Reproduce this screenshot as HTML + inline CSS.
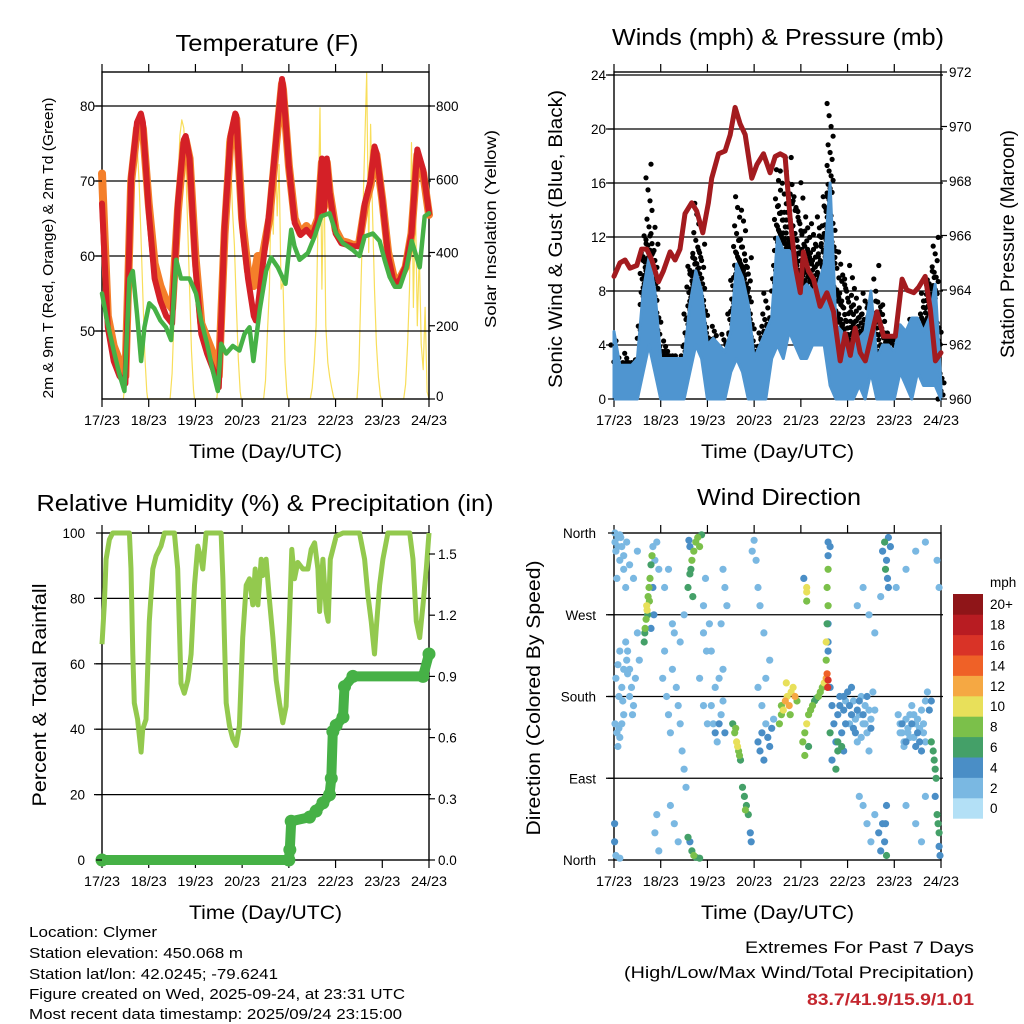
<!DOCTYPE html>
<html><head><meta charset="utf-8"><style>
html,body{margin:0;padding:0;background:#fff}
svg{display:block}
text{font-family:"Liberation Sans",sans-serif;fill:#000}
</style></head><body>
<svg id="chart" width="1024" height="1024" viewBox="0 0 1024 1024" xmlns="http://www.w3.org/2000/svg">
<rect width="1024" height="1024" fill="#fff"/>
<g>
<text x="267" y="51" font-size="23" text-anchor="middle" textLength="183" lengthAdjust="spacingAndGlyphs">Temperature (F)</text>
<text x="778" y="45" font-size="23" text-anchor="middle" textLength="332" lengthAdjust="spacingAndGlyphs">Winds (mph) &amp; Pressure (mb)</text>
<text x="265" y="511" font-size="23" text-anchor="middle" textLength="457" lengthAdjust="spacingAndGlyphs">Relative Humidity (%) &amp; Precipitation (in)</text>
<text x="779" y="505" font-size="23" text-anchor="middle" textLength="164" lengthAdjust="spacingAndGlyphs">Wind Direction</text>
</g>
<g font-size="15">
<text x="29" y="937" textLength="128" lengthAdjust="spacingAndGlyphs">Location: Clymer</text>
<text x="29" y="958" textLength="214" lengthAdjust="spacingAndGlyphs">Station elevation: 450.068 m</text>
<text x="29" y="979" textLength="249" lengthAdjust="spacingAndGlyphs">Station lat/lon: 42.0245; -79.6241</text>
<text x="29" y="999" textLength="376" lengthAdjust="spacingAndGlyphs">Figure created on Wed, 2025-09-24, at 23:31 UTC</text>
<text x="29" y="1019" textLength="373" lengthAdjust="spacingAndGlyphs">Most recent data timestamp: 2025/09/24 23:15:00</text>
</g>
<g>
<text x="974" y="953" font-size="17" text-anchor="end" textLength="229" lengthAdjust="spacingAndGlyphs">Extremes For Past 7 Days</text>
<text x="974" y="978" font-size="17" text-anchor="end" textLength="350" lengthAdjust="spacingAndGlyphs">(High/Low/Max Wind/Total Precipitation)</text>
<text x="974" y="1005" font-size="17" font-weight="bold" text-anchor="end" textLength="167" lengthAdjust="spacingAndGlyphs" style="fill:#c4262e">83.7/41.9/15.9/1.01</text>
</g>
</svg>
<script>
// ---------- DATA ----------
const dayLabels = ["17/23","18/23","19/23","20/23","21/23","22/23","23/23","24/23"];
// Temperature panel
const tempHours = [0,3,6,9,12,15,18,20,21,24,27,30,33,36,39,42,43,45,48,51,54,57,60,63,66,68.5,69,72,75,78,79,80,82.5,86,90,92.5,93,96,99,102,105,108,111,113,114,115.5,117,120,123,126,129,132,135,138,140,141,144,147,150,153,156,159,162,165,168];
const temp2m = [67,50.5,46,44,43,70.6,77.8,79,77.8,66,57,54,52,51,67,75.5,76,73,58.6,49.6,47,45,42.5,64,76,79,78.7,64,57,52,51.4,53,58.6,66,77,83.6,82.7,72,64.4,62.8,63.5,62.6,64.8,73,66,73,68.4,63,61.7,61.5,61.3,61.3,67,70,74.6,73.8,67.5,60,56.3,56.8,58.6,63,74.2,71.5,65.7];
const temp9m = [71,52,48,46,44,70,77,78,77,67,59,56,54,53,66,75,75.5,73,60,51,49,47,44,63,75.5,78.5,78.3,65,58,56,58.5,60,60,65,76.5,83,82.2,72,65,63,64,63,65,72.5,66.5,72.5,68.5,63.5,62,61.8,61.5,61.5,66.5,69.5,74,73.5,67.5,60.5,57,57,58.5,63,73.5,71,65.5];
const dewHours = [0,2.9,6,8.9,11.5,14.1,15.8,18,20.1,21.8,24.3,26.9,30,32.9,35.5,38.1,40.6,44.9,48.3,50.9,54,56.9,59.5,61.2,63.8,67.2,70.6,73.2,75.8,77.8,81,84.3,86.9,90.3,94.3,97.2,98.9,101.5,105.8,109.2,112.6,116.9,120.3,123.8,128.9,132.3,134.9,139.2,142.6,145.2,147.8,150.5,153.1,156.5,159.1,163.2,165.8,168];
const dewPoint = [55,51,47.4,44.3,42,57,58,52.3,46,50.5,53.7,53,51.4,50.5,48.8,59.5,57,57,55,51.4,48.3,44.7,42,48.3,47,48,47.4,49.6,50.5,46,52.8,58,59.8,58.5,56.3,63.5,61.3,59.5,60.4,62.6,65.3,65.7,63,61.7,60.8,60,62.6,63,62,59.5,57.2,55.9,55.9,58.5,62,58.5,65.3,65.7];
const solarHours = [11,12,13,14,15,16,17,18,19,20,21,22,23,23.5,
 35,36,37,38,39,40,41,42,43,44,45,46,47,47.5,
 59,60,61,62,63,64,65,66,67,68,69,70,71,71.5,
 83,84,85,86,87,88,89,90,91,92,93,94,95,95.5,
 107,108,109,110,111,112,113,114,115,116,117,118,119,119.5,
 131,132,133,134,135,136,137,138,139,140,141,142,143,143.5,
 155,156,157,158,159,160,161,162,163,164,165,166,167,168];
const solarValues = [0,60,200,380,560,680,720,700,600,450,280,120,20,0,
 0,70,220,400,580,720,762,740,640,480,300,130,25,0,
 0,60,210,390,570,700,727,680,520,420,260,110,20,0,
 0,50,180,300,600,450,707,500,640,300,320,100,15,0,
 0,30,100,200,500,795,300,650,200,100,60,30,5,0,
 0,80,300,500,700,890,400,750,500,300,150,60,10,0,
 0,40,150,300,700,250,550,200,400,150,80,250,20,0];
const tempTicks = [50,60,70,80];
const solarTicks = [0,200,400,600,800];
// Wind panel
const windHours = [0,3,6,9,12,15,18,21,24,27,30,33,36,39,42,45,48,51,54,57,60,63,66,69,72,75,78,81,84,87,90,93,96,99,102,105,108,111,114,117,120,123,126,129,132,135,138,141,144,147,150,153,156,159,162,165,168];
const windLow = [0,0,0,0,0,2,4,2,0,0,0,0,0,2,4,3,0,0,0,0,2,3,2,0,0,0,0,3,4,3,5,4,3,3,4,4,4,1,0,0,0,0,1,0,2,0,0,0,0,2,1,0,2,1,1,1,0];
const windHigh = [5,2.5,2.5,2.5,3,8,10.5,8,3,3,3,3,3,7,9.5,8,4,4.5,4,3.5,5,10,9,7,3,4,5,6,12,11,11,10,8,8.5,8,8.5,10,16,5.5,5,3,4,4.5,5,8,3,4,4,3.5,5.5,5,6,6,5,6,8.5,1];
const gustHigh = [4.5,3,3.5,3,3,11,18.5,12,4,4.5,3.5,3.5,4,11,15,12,5,5.5,4,5,7,15,14,11,4,5,8,6.5,17,18,19,16,17,13.5,13,14,15,22,11,11,10,9,7,8,7,11,7,5,4.5,5,5,6,5.5,9,10,12,2];
const presHours = [0,3.1,5.7,8.2,11.7,14.2,16.8,19.4,22.8,25.4,28.8,31.4,33.9,36.5,39.9,42.5,45.6,48.5,50.2,53.7,57.1,59.7,62.2,64.8,67.4,70.8,73.4,76.8,80.2,82.8,85.4,87.9,90.5,93.1,95.7,97.3,99.9,102.5,105.9,109.4,112.8,116.2,118.8,121.4,123.9,126.5,129.1,132.5,135.1,138.5,141.9,144.5,148,150.5,154,156.5,159.9,162.5,165.1,168];
const pressure = [964.5,965.0,965.1,964.8,964.9,965.5,965.5,965.1,964.3,964.7,965.4,965.1,965.5,966.8,967.2,966.9,966.1,967.2,968.1,969.0,969.1,969.7,970.7,970.1,969.7,968.1,968.6,969.0,968.3,968.9,969.0,968.9,966.6,964.9,963.9,965.4,964.7,964.4,963.4,963.9,963.2,961.4,962.4,961.6,962.6,961.7,961.4,962.4,963.2,962.3,962.3,962.3,964.4,964.0,963.9,964.1,964.5,963.3,961.4,961.7];
const windTicks = [0,4,8,12,16,20,24];
const presTicks = [960,962,964,966,968,970,972];
// Humidity panel
const rhHours = [0,1.2,2.1,3.8,5.5,14.1,14.9,15.8,16.6,18.3,20.1,20.9,22.6,24.3,26.1,27.8,30.3,32.1,37.2,38.9,39.8,40.6,42.3,44.1,45.8,47.5,49.2,50.9,51.8,53.5,61.2,62.1,62.9,63.8,65.5,67.2,68.9,70.6,72.3,74.1,75.8,77.5,78.7,80.1,81.8,82.6,84.3,86.1,87.8,89.5,91.2,92.9,94.6,96.3,97.5,98.9,100.6,103.2,105.8,107.5,109.2,110.9,111.8,113.5,115.2,116.2,117.3,120.3,123.8,132.3,134.9,136.6,138.3,140,140.9,142.6,144.3,146.9,158.1,159.8,161.5,163.2,164.9,166.6,168];
const rhValues = [66,78,92,98,100,100,89,63,48,43,33,40,43,73,89,93,96,100,100,89,70,54,51,55,63,84,96,92,89,100,100,86,68,48,41,37,35,41,68,84,86,78,89,78,92,87,92,79,68,55,48,42,47,73,95,86,91,89,89,95,97,89,76,92,76,73,92,99,100,100,92,81,73,63,71,84,92,100,100,92,73,68,78,89,100];
const rainHours = [0,96,96.5,97.2,106.6,110,113.5,116.9,117.8,118.6,120.3,123.8,124.6,128.9,164.9,168];
const rainTotal = [0,0,0.05,0.19,0.21,0.24,0.28,0.32,0.4,0.63,0.66,0.7,0.85,0.9,0.9,1.01];
const rhTicks = [0,20,40,60,80,100];
const rainTicks = ["0.0","0.3","0.6","0.9","1.2","1.5"];
// Wind direction panel
const dirHours = [0.5,1,2,3,4,5,6,1.5,3.5, 0.5,1.5,2.5,3,4,2,5, 0.3,0.3,1,3,
 15.5,16,16.5,17,17.5,18,18.5,19,19.5,16.8,17.3,18.2,15.8,20,20.5,19, 7,8,9,10,11,12,13,8,9.5, 20,21,22,23,21,22,23,
 38,39,40,41,42,43,44,45,39.5,40.5, 38.5,39,38,39,40,41,42,44, 25,26,27,28,29,30,31,32,33,34,35,36,37,29,31,33, 46,47,46,47.5,
 50,51,52,53,54,55,56,57,52,54,56,50,49, 61,62,63,64,65,63.5,62.5,64.5, 66,67,68,69,67.5,70,70.5, 56,57,58,55,72,71,
 74,75,76,77,78,79,80,81,82,76,74,78, 85,86,87,88,89,90,91,92,93,88.5,86,90.5,94, 73,74,75,77,80,99,99,99,97.5,
 97,98,99,100,101,102,103,104,105,106,107,108,109,109.5,109.8,110,100,98, 109,109,109.5,110,109.5,110,110,110,110,
 111,112,113,114,115,116,117,118,112,114,116,118,119,111,115, 115,117,110,111,110,
 121,122,123,124,125,126,127,128,129,130,131,132,133,134, 126,128,130,132,134,136,137,138, 138,139,140,141,142,139.5,140.5,141, 139,139.5,140,140, 125,128,131,134,137,
 146,147,148,149,150,151,152,153,154,155,156,157,158,159,160,161,162,163, 163,164,164.5,165,165.5, 165,166,166.5,167,167,167.5, 145,150,155,160,166,167,150,155,158,160,
 1,2,3,4,5,6,7,2.5,4.5,6.5, 118,119,120,121,122,123,124,125,126,127,128,129,130,131,132, 147,148,149,150,151,152,153,154,155,156,157,158,159,160, 0.5,2,3,5,6.5,8,10,12, 26,28,30,34,36,44,46,48];
const dirDegrees = [350,340,355,330,345,320,300,310,355, 150,140,145,135,150,125,160, 40,20,5,2,
 240,255,265,275,290,300,310,325,335,280,270,285,250,300,270,255, 230,210,190,170,200,250,220,180,160, 345,330,350,320,30,50,10,
 300,315,330,340,350,355,345,358,320,290, 352,345,25,20,10,5,3,2, 200,230,180,160,140,210,250,190,170,150,120,100,80,60,40,20, 280,310,250,230,
 170,150,140,130,150,160,175,140,190,200,210,230,260, 150,140,130,120,110,125,145,115, 80,70,60,50,55,30,20, 320,300,280,260,352,340,
 130,120,140,110,150,135,125,145,155,170,190,200, 150,160,165,175,180,170,185,190,180,195,170,160,175, 330,300,280,250,220,300,295,285,310,
 130,140,150,160,165,170,175,178,180,185,190,195,200,205,190,198,125,115, 220,240,260,280,300,320,260,240,230,
 190,170,150,130,160,180,140,120,110,100,170,180,150,140,120, 130,125,350,345,335,
 150,160,175,140,130,160,180,150,170,140,120,155,185,165, 70,60,40,20,50,30,10,40, 340,350,330,355,345,320,310,300, 20,40,60,5, 280,300,270,250,290,
 160,150,140,130,155,145,135,170,160,150,140,130,165,150,175,185,165,175, 130,120,110,100,90, 70,50,40,30,15,5, 300,320,340,350,330,300,60,40,20,70,
 200,215,230,190,210,240,205,180,175,220, 165,175,185,170,190,145,155,165,175,135,160,150,180,165,145, 140,150,125,130,140,160,150,135,125,155,145,120,140,130, 360,345,358,335,350,325,310,340, 300,320,260,240,270,200,170,150];
const dirSpeeds = [1,1,2,1,1,1,1,2,1, 1,2,1,2,1,1,1, 3,3,1,1,
 6,7,8,10,8,7,7,6,7,9,6,7,5,4,4,3, 1,1,1,1,2,1,1,2,1, 1,1,2,1,1,1,1,
 6,6,7,8,8,7,7,6,5,6, 4,4,5,4,6,7,6,5, 1,2,1,2,1,1,1,2,1,2,1,1,1,1,1,1, 1,1,2,1,
 2,2,3,2,3,2,2,3,1,1,1,1,1, 6,8,9,7,6,10,7,8, 5,6,6,5,7,4,4, 1,2,1,1,1,1,
 3,4,3,4,2,4,3,3,2,2,2,1, 7,8,10,11,10,12,10,9,11,10,8,8,7, 1,1,1,1,1,10,10,7,4,
 8,8,9,8,7,7,6,6,7,8,8,10,12,14,16,15,6,7, 8,10,6,7,8,8,4,4,4,
 4,4,4,4,3,3,3,4,4,5,4,3,3,5,5, 6,6,3,3,4,
 2,3,2,3,2,2,1,2,1,2,1,2,2,1, 2,1,2,2,2,4,4,3, 4,5,4,3,4,6,4,3, 4,4,3,6, 1,1,1,1,1,
 2,2,2,2,2,2,2,1,2,2,3,3,2,2,2,2,3,3, 5,6,5,5,6, 4,5,6,6,4,3, 1,1,1,1,1,1,1,1,1,1,
 1,1,2,1,2,1,1,1,2,1, 3,2,3,4,3,3,2,4,3,2,3,2,3,2,4, 2,3,2,3,2,1,3,2,3,2,2,3,2,2, 1,1,2,1,1,1,1,1, 1,1,1,1,1,1,1,1];
const dirTicks = ["North","East","South","West","North"];
const speedLabels = ["0","2","4","6","8","10","12","14","16","18","20+"];
const speedColors = ["#b3e0f6","#7ab8e2","#4a8ec6","#44a068","#7bc04a","#e8e05a","#f5a843","#ef6127","#d93327","#b81c22","#8f1518"];

// ---------- DRAWING ----------
const NS = "http://www.w3.org/2000/svg";
const svg = document.getElementById("chart");
function mk(tag, parent){ const e = document.createElementNS(NS, tag); (parent||svg).appendChild(e); return e; }
function set(e, o){ for (const k in o) e.setAttribute(k, o[k]); return e; }
function txt(parent, x, y, s, size, anchor){ const t = mk("text", parent); set(t,{x:x,y:y,"font-size":size,"text-anchor":anchor||"middle"}); t.textContent = s; return t; }
function linScale(d0,d1,r0,r1){ return v => r0 + (v-d0)/(d1-d0)*(r1-r0); }
function pathOf(xs, ys, fx, fy){ let d=""; const n=Math.min(xs.length,ys.length); for(let i=0;i<n;i++){ d += (i?"L":"M")+fx(xs[i]).toFixed(1)+","+fy(ys[i]).toFixed(1); } return d; }

function frame(g, x0, y0, w, h, gridYs, name){
  gridYs.forEach(y => {
    const l = mk("line", g);
    set(l,{x1:x0-8,x2:x0+w+2,y1:y,y2:y,stroke:"#000","stroke-width":1.2});
    
    
  });
  const r = mk("rect", g);
  set(r,{x:x0,y:y0,width:w,height:h,fill:"none",stroke:"#000","stroke-width":1.4});
  
  
  const xs = linScale(0,168,x0,x0+w);
  for (let d=0; d<=7; d++){
    const x = xs(d*24);
    const t1 = mk("line", g); set(t1,{x1:x,x2:x,y1:y0,y2:y0-8,stroke:"#000","stroke-width":1.2});
     
    const t2 = mk("line", g); set(t2,{x1:x,x2:x,y1:y0+h,y2:y0+h+8,stroke:"#000","stroke-width":1.2});
     
    const lb = txt(g, x, y0+h+26, dayLabels[d], 13.5);
    set(lb,{textLength:36,lengthAdjust:"spacingAndGlyphs"});
     
  }
  const at = txt(g, x0+w/2, y0+h+59, "Time (Day/UTC)", 19.5);
  set(at,{textLength:153,lengthAdjust:"spacingAndGlyphs"});
   
}
function yTitle(g, x, cy, s, size, len, name){
  const t = txt(g, 0, 0, s, size);
  set(t,{transform:`translate(${x},${cy}) rotate(-90)`, textLength:len, lengthAdjust:"spacingAndGlyphs"});
   
}
function tickLabel(g, x, y, s, anchor, name){
  const t = txt(g, x, y+5, s, 13.5, anchor);
   
  return t;
}
function sideTick(g, x, y, dir){
  const l = mk("line", g); set(l,{x1:x,x2:x+dir,y1:y,y2:y,stroke:"#000","stroke-width":1.2});
   
}

// ===== Panel 1: Temperature =====
(function(){
  const g = mk("g");  
  const X0=102, Y0=72, W=327, H=327;
  const x = linScale(0,168,X0,X0+W);
  const y = linScale(60,70,256,181);
  const ys = linScale(0,800,399,106);
  const sp = mk("path", g); set(sp,{d:pathOf(solarHours,solarValues,x,ys),fill:"none",stroke:"#f8de5a","stroke-width":1.2,"stroke-linejoin":"round"});
   
  frame(g, X0, Y0, W, H, tempTicks.map(y), "temperature");
  const o = mk("path", g); set(o,{d:pathOf(tempHours,temp9m,x,y),fill:"none",stroke:"#f47f2a","stroke-width":8,"stroke-linejoin":"round","stroke-linecap":"round"});
   
  const r = mk("path", g); set(r,{d:pathOf(tempHours,temp2m,x,y),fill:"none",stroke:"#d42027","stroke-width":6,"stroke-linejoin":"round","stroke-linecap":"round"});
   
  const gr = mk("path", g); set(gr,{d:pathOf(dewHours,dewPoint,x,y),fill:"none",stroke:"#46b146","stroke-width":4.5,"stroke-linejoin":"round","stroke-linecap":"round"});
   
  tempTicks.forEach(v => { tickLabel(g, X0-7, y(v), String(v), "end", "temp-tick-label"); sideTick(g, X0, y(v), -6); });
  solarTicks.forEach(v => { tickLabel(g, X0+W+7, Math.min(ys(v),396), String(v), "start", "solar-tick-label"); sideTick(g, X0+W, ys(v), 6); });
  yTitle(g, 53, 248, "2m & 9m T (Red, Orange) & 2m Td (Green)", 15, 301, "temp-y-title");
  yTitle(g, 496, 229, "Solar Insolation (Yellow)", 15.5, 198, "solar-y-title");
})();

// ===== Panel 2: Winds & Pressure =====
(function(){
  const g = mk("g");  
  const X0=614, Y0=72, W=327, H=327;
  const x = linScale(0,168,X0,X0+W);
  const y = linScale(0,24,399,75);
  const yp = linScale(960,972,399,72);
  frame(g, X0, Y0, W, H, windTicks.slice(1).map(y), "winds");
  const gg = mk("g", g);  
  const n = windHours.length;
  for (let i=0;i<n;i++){
    const cols = [[windHours[i], windHigh[i], gustHigh[i]]];
    if (i<n-1) cols.push([(windHours[i]+windHours[i+1])/2, (windHigh[i]+windHigh[i+1])/2, (gustHigh[i]+gustHigh[i+1])/2*0.85]);
    cols.forEach(c => {
      let k = 0;
      for (let v=Math.max(0,c[1]-1); v<=c[2]; ){
        const dot = mk("circle", gg);
        set(dot,{cx:(x(c[0])+((k*5)%7-3)).toFixed(1),cy:y(v).toFixed(1),r:2.6,fill:"#000"});
        
        
        k++;
        v += 0.3 + Math.max(0, v-c[1])*0.12;
      }
    });
  }
  let d = "";
  for (let i=0;i<n;i++) d += (i?"L":"M")+x(windHours[i]).toFixed(1)+","+y(windHigh[i]).toFixed(1);
  for (let i=n-1;i>=0;i--) d += "L"+x(windHours[i]).toFixed(1)+","+y(windLow[i]).toFixed(1);
  d += "Z";
  const band = mk("path", g); set(band,{d:d,fill:"#4f95d0",stroke:"#4f95d0","stroke-width":3,"stroke-linejoin":"round"});
   
  const p = mk("path", g); set(p,{d:pathOf(presHours,pressure,x,yp),fill:"none",stroke:"#a31b1f","stroke-width":5,"stroke-linejoin":"round","stroke-linecap":"round"});
   
  windTicks.forEach(v => { tickLabel(g, X0-8, y(v), String(v), "end", "wind-tick-label"); sideTick(g, X0, y(v), -6); });
  presTicks.forEach(v => { tickLabel(g, X0+W+8, yp(v), String(v), "start", "pressure-tick-label"); sideTick(g, X0+W, yp(v), 6); });
  yTitle(g, 562, 239, "Sonic Wind & Gust (Blue, Black)", 19.5, 298, "wind-y-title");
  yTitle(g, 1014, 244, "Station Pressure (Maroon)", 19.5, 228, "pressure-y-title");
})();

// ===== Panel 3: Humidity & Rain =====
(function(){
  const g = mk("g");  
  const X0=102, Y0=533, W=327, H=327;
  const x = linScale(0,168,X0,X0+W);
  const y = linScale(0,100,860,533);
  const yr = linScale(0,1.5,860,554);
  frame(g, X0, Y0, W, H, [20,40,60,80].map(y), "humidity");
  const rh = mk("path", g); set(rh,{d:pathOf(rhHours,rhValues,x,y),fill:"none",stroke:"#93c94e","stroke-width":5,"stroke-linejoin":"round"});
   
  const rn = mk("path", g); set(rn,{d:pathOf(rainHours,rainTotal,x,yr),fill:"none",stroke:"#46b146","stroke-width":10,"stroke-linejoin":"round","stroke-linecap":"round"});
   
  for (let i=0;i<rainHours.length;i++){
    const c = mk("circle", g); set(c,{cx:x(rainHours[i]),cy:yr(rainTotal[i]),r:6.5,fill:"#46b146"});
     
  }
  rhTicks.forEach(v => { tickLabel(g, X0-17, y(v), String(v), "end", "humidity-tick-label"); sideTick(g, X0, y(v), -6); });
  rainTicks.forEach(s => { const v=parseFloat(s); tickLabel(g, X0+W+9, yr(v), s, "start", "rain-tick-label"); sideTick(g, X0+W, yr(v), 6); });
  yTitle(g, 46, 695, "Percent & Total Rainfall", 19.5, 223, "humidity-y-title");
})();

// ===== Panel 4: Wind direction =====
(function(){
  const g = mk("g");  
  const X0=614, Y0=533, W=327, H=327;
  const x = linScale(0,168,X0,X0+W);
  const y = linScale(0,360,860,533);
  frame(g, X0, Y0, W, H, [90,180,270].map(y), "direction");
  const idx = dirHours.map((_,i)=>i).sort((a,b)=>dirSpeeds[a]-dirSpeeds[b]);
  idx.forEach(i => {
    const ci = Math.min(10, Math.round(dirSpeeds[i]/2));
    const c = mk("circle", g);
    set(c,{cx:x(dirHours[i]).toFixed(1),cy:y(dirDegrees[i]).toFixed(1),r:3.6,fill:speedColors[ci]});
    
    
  });
  dirTicks.forEach((s,k) => { tickLabel(g, X0-18, y(k*90), s, "end", "direction-tick-label"); sideTick(g, X0, y(k*90), -6); });
  yTitle(g, 540, 698, "Direction (Colored By Speed)", 19.5, 275, "direction-y-title");
  const cb = mk("g", g);  
  const bh = 20.4;
  for (let k=0;k<11;k++){
    const top = 594 + (10-k)*bh;
    const r = mk("rect", cb); set(r,{x:953,y:top,width:30,height:bh+0.3,fill:speedColors[k]});
     
    const t = txt(cb, 990, top+bh/2+5, speedLabels[k], 13.5, "start");
     
  }
  const u = txt(cb, 990, 587, "mph", 13.5, "start");
   
})();
</script>
</body></html>
